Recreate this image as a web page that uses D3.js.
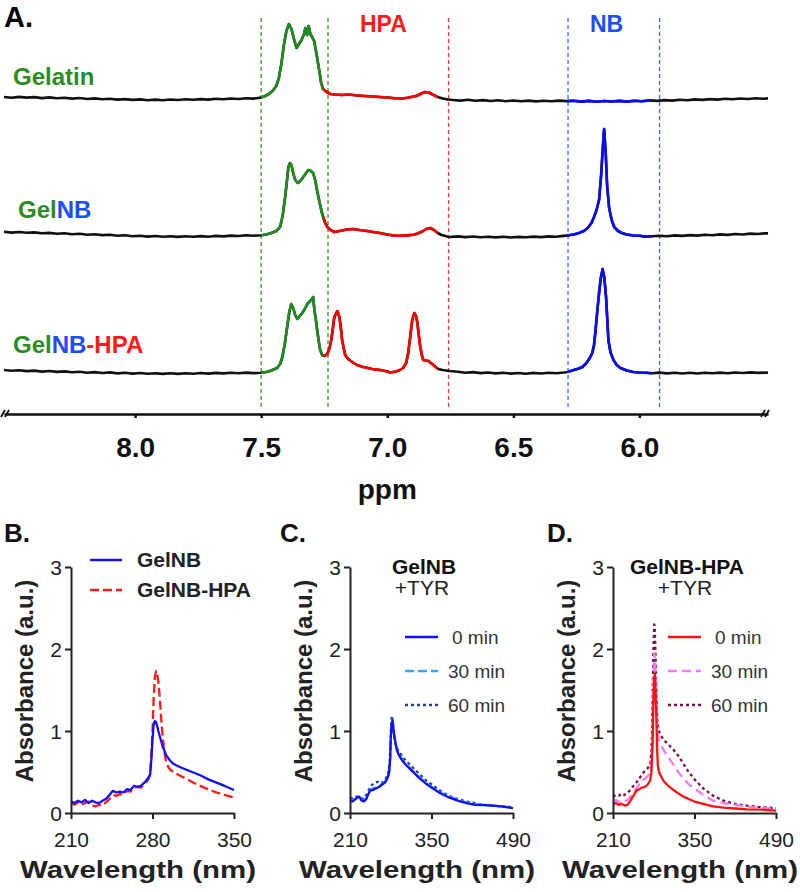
<!DOCTYPE html>
<html>
<head>
<meta charset="utf-8">
<title>GelNB-HPA NMR / UV-Vis</title>
<style>
  body { margin: 0; background: #fff; }
  svg text { font-family: "Liberation Sans", Arial, Helvetica, sans-serif; }
</style>
</head>
<body>
<div id="chart"></div>
<script src="https://cdn.jsdelivr.net/npm/d3@7"></script>
<script>
// ---------- panel A data: 1H NMR, [ppm, intensity] ----------
var ppmTicks = [8.0, 7.5, 7.0, 6.5, 6.0];
var markerPpm = [7.50, 7.235, 6.757, 6.283, 5.92];
var markerGroup = ["gel", "gel", "hpa", "nb", "nb"];
var bandGel = [7.50, 7.255];
var bandHpa = [7.255, 6.80];
var bandNb = [6.285, 5.95];

var gelatin = [[8.52,3.0],[8.49,2.2],[8.46,3.1],[8.43,2.4],[8.40,2.9],[8.37,1.9],[8.34,2.6],[8.31,1.7],[8.28,2.3],[8.25,1.4],[8.22,2.0],[8.19,1.0],[8.16,1.6],[8.13,0.7],[8.10,1.2],[8.07,0.4],[8.04,0.9],[8.01,0.1],[7.98,0.6],[7.95,-0.3],[7.92,0.4],[7.89,-0.2],[7.86,0.5],[7.83,0.0],[7.80,0.7],[7.77,0.2],[7.74,0.9],[7.71,0.4],[7.68,1.2],[7.65,0.7],[7.62,1.5],[7.59,1.0],[7.56,1.8],[7.53,1.4],[7.50,2.4],
  [7.485,4],[7.47,6],[7.455,9],[7.44,14],[7.43,22],[7.42,36],[7.41,55],[7.40,69],[7.39,76],[7.38,71],[7.37,61],[7.36,52],[7.35,56],[7.34,60],[7.33,66],[7.325,72],[7.318,65],[7.312,74],[7.305,66],[7.298,63],[7.29,59],[7.28,45],[7.27,30],[7.262,17],[7.255,11],[7.24,8],[7.225,6],[7.21,5.5],
  [7.18,5],[7.15,5.5],[7.12,4.5],[7.09,4],[7.06,3.5],[7.03,3],[7.00,2.5],[6.97,1.8],[6.94,1.5],[6.92,2.2],[6.90,3.2],[6.88,4.5],[6.865,6.5],[6.85,8],[6.835,7.5],[6.82,5.5],[6.80,3],[6.78,1.5],[6.76,0.5],[6.74,0],
  [6.71,-0.6],[6.68,0.2],[6.65,-0.8],[6.62,-0.1],[6.59,-1],[6.56,-0.3],[6.53,-1.2],[6.50,-0.5],[6.47,-1.3],[6.44,-0.6],[6.41,-1.4],[6.38,-0.7],[6.35,-1.3],[6.32,-0.6],[6.29,-1.1],[6.26,-0.8],[6.23,-1.6],[6.20,-0.9],[6.17,-1.7],[6.14,-1.0],[6.11,-1.5],[6.08,-0.9],[6.05,-1.6],[6.02,-0.8],[5.99,-1.2],[5.96,-0.4],[5.93,-0.9],[5.90,-0.1],[5.87,-0.6],[5.84,0.3],[5.81,-0.2],[5.78,0.6],[5.75,0.1],[5.72,0.9],[5.69,0.4],[5.66,1.2],[5.63,0.8],[5.60,1.5],[5.57,1.0],[5.54,1.7],[5.51,1.3],[5.49,1.6]];

var gelNB = [[8.52,4.2],[8.49,3.4],[8.46,4.0],[8.43,3.2],[8.40,3.6],[8.37,2.7],[8.34,3.1],[8.31,2.2],[8.28,2.7],[8.25,1.8],[8.22,2.2],[8.19,1.3],[8.16,1.8],[8.13,0.9],[8.10,1.3],[8.07,0.3],[8.04,0.8],[8.01,-0.2],[7.98,0.3],[7.95,-0.6],[7.92,0.0],[7.89,-0.8],[7.86,-0.2],[7.83,-0.9],[7.80,-0.3],[7.77,-0.8],[7.74,-0.1],[7.71,-0.7],[7.68,0.1],[7.65,-0.4],[7.62,0.4],[7.59,0.0],[7.56,0.7],[7.53,0.3],[7.50,0.8],
  [7.48,1.5],[7.46,3],[7.44,5],[7.425,9],[7.415,20],[7.405,39],[7.398,55],[7.392,69],[7.386,73],[7.38,71],[7.372,62],[7.365,56],[7.355,53],[7.345,55],[7.333,59],[7.322,63],[7.313,66],[7.303,65],[7.294,63],[7.285,55],[7.278,45],[7.268,33],[7.258,22],[7.248,14],[7.238,9],[7.225,6],[7.21,4],
  [7.19,5],[7.16,6.5],[7.135,7],[7.11,6],[7.08,5],[7.056,4],[7.03,3],[7.00,1.5],[6.976,0.5],[6.95,0.3],[6.92,0.6],[6.897,1.2],[6.88,2.5],[6.861,4.5],[6.845,7],[6.829,8],[6.815,6],[6.80,3],[6.785,1],[6.77,0],[6.754,-1],
  [6.72,-0.4],[6.69,-1.1],[6.66,-0.5],[6.63,-1.3],[6.60,-0.7],[6.57,-1.4],[6.54,-0.8],[6.51,-1.5],[6.48,-0.9],[6.45,-1.3],[6.42,-0.6],[6.39,-1.1],[6.36,-0.4],[6.33,-0.8],[6.30,0.1],
  [6.28,0.8],[6.26,1.5],[6.24,3],[6.22,5],[6.205,8],[6.19,13],[6.18,19],[6.17,26],[6.16,36],[6.152,60],[6.146,85],[6.140,107],[6.134,85],[6.128,50],[6.12,28],[6.11,16],[6.10,9],[6.085,5],[6.07,3],[6.05,1.5],[6.024,0.5],[6.00,0.2],[5.975,-0.6],[5.95,-0.2],
  [5.92,0.3],[5.89,-0.3],[5.86,0.6],[5.83,0.1],[5.80,0.9],[5.77,0.4],[5.74,1.2],[5.71,0.8],[5.68,1.6],[5.65,1.1],[5.62,2.0],[5.59,1.5],[5.56,2.4],[5.53,2.0],[5.50,2.8],[5.49,2.6]];

var gelNBHPA = [[8.52,3.0],[8.49,2.2],[8.46,2.8],[8.43,1.9],[8.40,2.4],[8.37,1.4],[8.34,2.0],[8.31,1.1],[8.28,1.6],[8.25,0.7],[8.22,1.2],[8.19,0.3],[8.16,0.9],[8.13,0.0],[8.10,0.6],[8.07,-0.4],[8.04,0.2],[8.01,-0.6],[7.98,0.0],[7.95,-0.8],[7.92,-0.2],[7.89,-0.9],[7.86,-0.3],[7.83,-0.9],[7.80,-0.2],[7.77,-0.7],[7.74,0.0],[7.71,-0.6],[7.68,0.1],[7.65,-0.4],[7.62,0.3],[7.59,-0.2],[7.56,0.4],[7.53,-0.1],[7.50,0.3],
  [7.48,1],[7.46,2.5],[7.437,5],[7.425,9],[7.417,15],[7.407,28],[7.397,46],[7.389,60],[7.381,69],[7.373,65],[7.365,58],[7.357,54],[7.347,57],[7.337,60],[7.327,64],[7.317,69],[7.306,72],[7.298,74],[7.294,76],[7.289,63],[7.283,53],[7.278,43],[7.272,32],[7.266,23],[7.258,18],[7.248,17],
  [7.238,19],[7.23,24],[7.222,33],[7.215,46],[7.21,56],[7.198,62],[7.19,56],[7.184,45],[7.179,33],[7.172,24],[7.167,18],[7.155,14],[7.139,11],[7.12,8],[7.095,6],[7.06,4],[7.028,3],[7.00,1.5],[6.988,0.5],[6.965,1.5],[6.95,3],[6.937,5],[6.925,10],[6.917,20],[6.909,36],[6.901,53],[6.893,60],[6.886,57],[6.881,51],[6.875,38],[6.869,26],[6.863,18],[6.857,13],[6.847,12.5],[6.837,12],[6.827,10],[6.817,8],[6.808,6],[6.798,4],[6.78,3],[6.754,2],
  [6.72,1.2],[6.69,0.3],[6.66,0.9],[6.63,-0.1],[6.60,0.5],[6.57,-0.4],[6.54,0.2],[6.51,-0.6],[6.48,0.0],[6.45,-0.7],[6.42,0.1],[6.39,-0.5],[6.36,0.3],[6.33,-0.2],[6.30,0.5],
  [6.286,1],[6.26,3],[6.24,4.5],[6.226,6],[6.21,10],[6.197,15],[6.187,20],[6.18,28],[6.175,40],[6.167,62],[6.16,80],[6.153,95],[6.146,104],[6.139,95],[6.132,75],[6.127,52],[6.123,33],[6.115,21],[6.103,13],[6.09,8],[6.075,5],[6.05,2.5],[6.024,1],[6.00,0.5],[5.975,0.2],[5.95,-0.3],
  [5.92,0.4],[5.89,-0.4],[5.86,0.3],[5.83,-0.5],[5.80,0.2],[5.77,-0.5],[5.74,0.3],[5.71,-0.3],[5.68,0.4],[5.65,-0.2],[5.62,0.5],[5.59,0.0],[5.56,0.6],[5.53,0.1],[5.50,0.5],[5.49,0.3]];

// ---------- panels B-D: UV-Vis, [wavelength nm, absorbance] ----------
var ticksB = [210, 280, 350];
var ticksCD = [210, 350, 490];
var absTicks = [0, 1, 2, 3];

var bGelNB = [[210,0.14],[213,0.12],[216,0.15],[219,0.13],[222,0.16],[225,0.12],[228,0.15],[231,0.13],[234,0.12],[237,0.15],[240,0.17],[243,0.22],[246,0.27],[249,0.25],[252,0.26],[255,0.25],[258,0.29],[261,0.28],[264,0.33],[267,0.32],[270,0.33],[273,0.37],[276,0.42],[278,0.47],[279,0.65],[280,0.9],[281,1.08],[282,1.12],[283,1.11],[284,1.06],[285,1.0],[287,0.9],[289,0.8],[292,0.7],[295,0.64],[298,0.6],[302,0.57],[307,0.54],[314,0.5],[321,0.46],[328,0.41],[335,0.37],[342,0.33],[350,0.28]];
var bGelNBHPA = [[210,0.12],[213,0.1],[216,0.13],[219,0.1],[222,0.12],[225,0.14],[228,0.09],[231,0.08],[234,0.1],[237,0.09],[240,0.13],[243,0.17],[246,0.22],[249,0.21],[252,0.23],[255,0.22],[258,0.27],[261,0.26],[264,0.31],[267,0.32],[270,0.31],[273,0.35],[276,0.4],[278,0.47],[279,0.7],[280,1.0],[281,1.4],[282,1.65],[283,1.73],[284,1.7],[285,1.6],[286,1.45],[287,1.25],[288,1.05],[290,0.75],[292,0.6],[295,0.53],[298,0.5],[303,0.46],[310,0.41],[318,0.35],[326,0.3],[335,0.25],[342,0.22],[350,0.19]];

var c0 = [[210,0.15],[214,0.14],[218,0.16],[222,0.19],[226,0.2],[230,0.15],[234,0.14],[238,0.17],[242,0.24],[246,0.28],[250,0.28],[254,0.3],[258,0.31],[262,0.33],[266,0.35],[270,0.37],[274,0.42],[277,0.48],[279,0.65],[280,0.9],[281,1.05],[282,1.1],[283,1.12],[284,1.08],[285,1.0],[287,0.9],[290,0.78],[293,0.72],[297,0.67],[303,0.61],[310,0.56],[320,0.49],[330,0.42],[340,0.36],[350,0.31],[365,0.24],[380,0.19],[395,0.15],[410,0.12],[425,0.1],[440,0.095],[455,0.09],[470,0.08],[490,0.06]];
var c30 = [[210,0.16],[214,0.15],[218,0.17],[222,0.18],[226,0.19],[230,0.16],[234,0.15],[238,0.18],[242,0.25],[246,0.29],[250,0.3],[254,0.31],[258,0.32],[262,0.34],[266,0.36],[270,0.38],[274,0.43],[277,0.5],[279,0.68],[280,0.92],[281,1.06],[282,1.11],[283,1.12],[284,1.07],[285,1.0],[287,0.9],[290,0.8],[293,0.73],[297,0.68],[303,0.62],[310,0.57],[320,0.5],[330,0.43],[340,0.37],[350,0.32],[365,0.25],[380,0.2],[395,0.16],[410,0.13],[425,0.11],[440,0.1],[455,0.09],[470,0.08],[490,0.065]];
var c60 = [[210,0.17],[216,0.19],[222,0.2],[228,0.18],[234,0.17],[240,0.25],[246,0.33],[252,0.37],[258,0.38],[264,0.36],[270,0.4],[275,0.47],[278,0.6],[280,0.95],[281,1.12],[282,1.18],[283,1.15],[284,1.05],[286,0.92],[289,0.82],[293,0.76],[297,0.72],[303,0.66],[310,0.61],[320,0.54],[330,0.47],[340,0.4],[350,0.35],[365,0.27],[380,0.21],[395,0.17],[410,0.14],[425,0.12],[440,0.1],[455,0.09],[470,0.08],[490,0.07]];

var d0 = [[210,0.11],[215,0.12],[220,0.1],[225,0.11],[230,0.09],[235,0.1],[240,0.15],[245,0.21],[250,0.27],[255,0.29],[260,0.31],[265,0.32],[270,0.35],[274,0.4],[276,0.5],[277,0.65],[278,0.85],[279,1.2],[280,1.5],[281,1.65],[282,1.7],[283,1.5],[284,1.3],[285,1.0],[286,0.75],[287,0.58],[289,0.5],[293,0.44],[297,0.39],[305,0.33],[314,0.28],[322,0.24],[331,0.2],[340,0.17],[350,0.14],[365,0.11],[382,0.08],[400,0.065],[420,0.055],[440,0.045],[465,0.04],[490,0.03]];
var d30 = [[210,0.14],[215,0.16],[220,0.13],[225,0.15],[230,0.14],[235,0.16],[240,0.2],[245,0.25],[250,0.3],[255,0.35],[260,0.4],[265,0.42],[270,0.45],[274,0.5],[276,0.6],[277,0.8],[278,1.1],[279,1.5],[280,1.8],[281,1.95],[282,1.9],[283,1.7],[284,1.45],[285,1.2],[286,1.0],[288,0.92],[291,0.85],[296,0.78],[303,0.7],[313,0.6],[322,0.5],[331,0.42],[340,0.35],[350,0.3],[365,0.22],[382,0.15],[400,0.12],[420,0.1],[440,0.08],[465,0.06],[490,0.05]];
var d60 = [[210,0.2],[215,0.22],[220,0.21],[225,0.24],[230,0.22],[235,0.25],[240,0.28],[245,0.33],[250,0.37],[255,0.42],[260,0.47],[265,0.52],[270,0.55],[274,0.6],[276,0.75],[277,1.0],[278,1.35],[279,1.8],[280,2.15],[281,2.3],[282,2.2],[283,1.95],[284,1.65],[285,1.35],[286,1.15],[288,1.02],[291,0.96],[296,0.9],[303,0.85],[313,0.78],[322,0.7],[331,0.6],[340,0.5],[350,0.41],[365,0.3],[382,0.21],[400,0.15],[420,0.11],[440,0.09],[465,0.07],[490,0.06]];

// ---------- colours ----------
var col = {
  gel: "#1f8c1f", hpa: "#ff0000", nb: "#0a0aff",
  gelText: "#2b8c22", hpaText: "#ff1a1a", nbText: "#1c4dff",
  gelDash: "#3d8f2d", hpaDash: "#ff3030", nbDash: "#4466ee",
  axis: "#222"
};

var svg = d3.select("#chart").append("svg")
  .attr("width", 800).attr("height", 892)
  .attr("viewBox", "0 0 800 892");
var defs = svg.append("defs");

// ================= PANEL A =================
var x = d3.scaleLinear().domain([8.52, 5.49]).range([4, 768]);
var amp = d3.scaleLinear().domain([0, 100]).range([0, -100]);
var baseY = [100, 236, 373];
var axisY = 414;

svg.append("text").attr("x", 4).attr("y", 27)
  .attr("font-size", 29).attr("font-weight", "bold").text("A.");

// dashed region markers
svg.selectAll(".marker").data(markerPpm).join("line")
  .attr("class", "marker")
  .attr("x1", d => x(d)).attr("x2", d => x(d))
  .attr("y1", 18).attr("y2", 408)
  .attr("stroke", (d, i) => col[markerGroup[i] + "Dash"])
  .attr("stroke-width", 1.3)
  .attr("stroke-dasharray", "4,3");

svg.append("text").attr("x", (x(bandHpa[0]) + x(bandHpa[1])) / 2 + 3).attr("y", 32)
  .attr("text-anchor", "middle").attr("font-size", 23).attr("font-weight", "bold")
  .attr("fill", col.hpaText).text("HPA");
svg.append("text").attr("x", x(6.13)).attr("y", 32)
  .attr("text-anchor", "middle").attr("font-size", 23).attr("font-weight", "bold")
  .attr("fill", col.nbText).text("NB");

// clip bands for colouring segments
var bands = [["gel", bandGel], ["hpa", bandHpa], ["nb", bandNb]];
bands.forEach(function(b) {
  defs.append("clipPath").attr("id", "clip-" + b[0])
    .append("rect")
    .attr("x", x(b[1][0])).attr("width", x(b[1][1]) - x(b[1][0]))
    .attr("y", -300).attr("height", 600);
});

var nmrLine = d3.line().x(d => x(d[0])).y(d => amp(d[1]));
var spectra = [gelatin, gelNB, gelNBHPA];

spectra.forEach(function(s, i) {
  var g = svg.append("g").attr("transform", "translate(0," + baseY[i] + ")");
  g.append("path").datum(s).attr("d", nmrLine)
    .attr("fill", "none").attr("stroke", "#111").attr("stroke-width", 2.6)
    .attr("stroke-linejoin", "round");
  bands.forEach(function(b) {
    g.append("path").datum(s).attr("d", nmrLine)
      .attr("clip-path", "url(#clip-" + b[0] + ")")
      .attr("fill", "none").attr("stroke", col[b[0]]).attr("stroke-width", 2.6)
      .attr("stroke-linejoin", "round");
  });
});

// spectrum names
var nameParts = [
  [["Gelatin", "gelText"]],
  [["Gel", "gelText"], ["NB", "nbText"]],
  [["Gel", "gelText"], ["NB", "nbText"], ["-HPA", "hpaText"]]
];
var nameX = [13, 18, 13];
var nameY = [85, 218, 353];
nameParts.forEach(function(parts, i) {
  var t = svg.append("text").attr("x", nameX[i]).attr("y", nameY[i])
    .attr("font-size", 24).attr("font-weight", "bold");
  parts.forEach(function(p) {
    t.append("tspan").attr("fill", col[p[1]]).text(p[0]);
  });
});

// ppm axis
var gx = svg.append("g").attr("transform", "translate(0," + axisY + ")")
  .call(d3.axisBottom(x).tickValues(ppmTicks).tickFormat(d3.format(".1f"))
    .tickSize(4).tickSizeOuter(0));
gx.select(".domain").attr("stroke", "#111").attr("stroke-width", 2.5);
gx.selectAll(".tick line").attr("stroke", "#111").attr("stroke-width", 2.5);
gx.selectAll(".tick text").attr("dy", null).attr("y", 43)
  .attr("font-size", 28).attr("font-weight", "bold").attr("fill", "#111")
  .attr("font-family", "'Liberation Sans', Arial, sans-serif");
// axis breaks
x.range().forEach(function(px, i) {
  var dir = i === 0 ? 1 : -1;
  [0, 4].forEach(function(off) {
    gx.append("line")
      .attr("x1", px + dir * off - 3).attr("y1", 3)
      .attr("x2", px + dir * off + 1).attr("y2", -4)
      .attr("stroke", "#111").attr("stroke-width", 1.8);
  });
});
svg.append("text").attr("x", x(7.0)).attr("y", 499)
  .attr("text-anchor", "middle").attr("font-size", 28).attr("font-weight", "bold")
  .attr("fill", "#111").text("ppm");

// ================= PANELS B-D =================
var yTop = 567, yBottom = 813;

function uvPanel(opt) {
  var xs = d3.scaleLinear().domain([opt.ticks[0], opt.ticks[2]]).range([opt.left, opt.left + 163]);
  var ys = d3.scaleLinear().domain([0, 3]).range([yBottom, yTop]);
  var g = svg.append("g");

  g.append("text").attr("x", opt.labelX).attr("y", 542)
    .attr("font-size", 26).attr("font-weight", "bold").attr("fill", "#111").text(opt.label);

  var line = d3.line().x(d => xs(d[0])).y(d => ys(d[1]));
  opt.series.forEach(function(s) {
    g.append("path").datum(s.data).attr("d", line)
      .attr("fill", "none").attr("stroke", s.color).attr("stroke-width", s.width || 2.3)
      .attr("stroke-dasharray", s.dash || null).attr("stroke-linejoin", "round");
  });

  var ax = g.append("g").attr("transform", "translate(0," + yBottom + ")")
    .call(d3.axisBottom(xs).tickValues(opt.ticks).tickSize(6).tickSizeOuter(0));
  var ay = g.append("g").attr("transform", "translate(" + opt.left + ",0)")
    .call(d3.axisLeft(ys).tickValues(absTicks).tickFormat(d3.format("d"))
      .tickSize(6).tickSizeOuter(0));
  [ax, ay].forEach(function(a) {
    a.select(".domain").attr("stroke", col.axis).attr("stroke-width", 2);
    a.selectAll(".tick line").attr("stroke", col.axis).attr("stroke-width", 2);
    a.selectAll(".tick text").attr("font-size", 21).attr("fill", "#222")
      .attr("font-family", "'Liberation Sans', Arial, sans-serif");
  });
  ax.selectAll(".tick text").attr("dy", null).attr("y", 34);
  ay.selectAll(".tick text").attr("x", -9).attr("dy", "0.36em");

  g.append("text")
    .attr("transform", "translate(" + (opt.left - 38) + "," + 681 + ") rotate(-90)")
    .attr("text-anchor", "middle").attr("font-size", 24).attr("font-weight", "bold")
    .attr("fill", "#222").text("Absorbance (a.u.)");
  g.append("text").attr("x", opt.left + 81 - 14).attr("y", 878)
    .attr("text-anchor", "middle").attr("font-size", 23).attr("font-weight", "bold")
    .attr("textLength", 236).attr("lengthAdjust", "spacingAndGlyphs")
    .attr("fill", "#222").text("Wavelength (nm)");

  return g;
}

// B
var gB = uvPanel({
  left: 71, ticks: ticksB, label: "B.", labelX: 4,
  series: [
    { data: bGelNBHPA, color: "#ff1a1a", dash: "9,4" },
    { data: bGelNB, color: "#1010ff" }
  ]
});
var legB = [["GelNB", "#1010ff", null], ["GelNB-HPA", "#ff1a1a", "9,4"]];
legB.forEach(function(l, i) {
  var yy = 560 + i * 30;
  gB.append("line").attr("x1", 90).attr("x2", 122).attr("y1", yy).attr("y2", yy)
    .attr("stroke", l[1]).attr("stroke-width", 2.5).attr("stroke-dasharray", l[2]);
  gB.append("text").attr("x", 137).attr("y", yy + 7).attr("font-size", 21)
    .attr("font-weight", "bold").attr("fill", "#222").text(l[0]);
});

// C and D share legend layout
function timeLegend(g, left, title, items) {
  g.append("text").attr("x", left + 74).attr("y", 574).attr("text-anchor", "middle")
    .attr("font-size", 21).attr("font-weight", "bold").attr("fill", "#111").text(title);
  g.append("text").attr("x", left + 72).attr("y", 595).attr("text-anchor", "middle")
    .attr("font-size", 21).attr("fill", "#222").text("+TYR");
  items.forEach(function(it, i) {
    var yy = 637 + i * 34;
    g.append("line").attr("x1", left + 55).attr("x2", left + 88).attr("y1", yy).attr("y2", yy)
      .attr("stroke", it.color).attr("stroke-width", 2.5).attr("stroke-dasharray", it.dash || null);
    g.append("text").attr("x", left + (it.label.length < 6 ? 102 : 98)).attr("y", yy + 7)
      .attr("font-size", 19).attr("fill", "#333").text(it.label);
  });
}

var cSeries = [
  { data: c60, color: "#1f3f9a", dash: "3,3", label: "60 min" },
  { data: c30, color: "#35a5f5", dash: "9,4", label: "30 min" },
  { data: c0, color: "#1010ff", label: "0 min" }
];
var gC = uvPanel({ left: 350, ticks: ticksCD, label: "C.", labelX: 280, series: cSeries });
timeLegend(gC, 350, "GelNB", cSeries.slice().reverse());

var dSeries = [
  { data: d60, color: "#7a1048", dash: "3,3", label: "60 min" },
  { data: d30, color: "#f57af0", dash: "9,5", label: "30 min" },
  { data: d0, color: "#ff1010", label: "0 min" }
];
var gD = uvPanel({ left: 613, ticks: ticksCD, label: "D.", labelX: 547, series: dSeries });
timeLegend(gD, 613, "GelNB-HPA", dSeries.slice().reverse());
</script>
</body>
</html>
